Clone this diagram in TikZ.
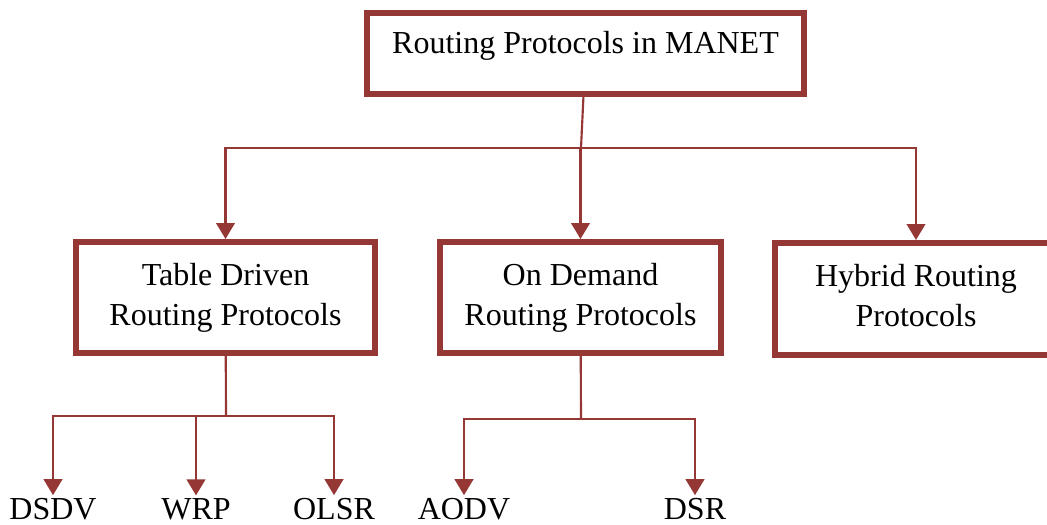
\documentclass[tikz,border=0pt]{standalone}
\usepackage{fontspec}
\setmainfont{Liberation Serif}
\usetikzlibrary{arrows.meta}
\definecolor{boxred}{RGB}{149,55,53}
\tikzset{
  protobox/.style={draw=boxred, line width=4.5pt, align=center, inner sep=0pt,
    minimum height=83.25pt, text depth=5pt},
  link/.style={color=boxred, line width=1.6pt},
  arrow/.style={link, ->},
  leaf/.style={anchor=base, inner sep=2pt, outer sep=0pt}
}

\begin{document}
\begin{tikzpicture}[x=0.75pt,y=-0.75pt,>={Triangle[width=14pt,length=12pt]},
  font=\fontsize{24}{30}\selectfont]
\useasboundingbox (0,0) rectangle (1047,525);
\node[protobox,minimum width=327.75pt,minimum height=60.75pt,text height=30pt,
  text depth=30.75pt] (manet) at (585.5,53.5) {Routing Protocols in MANET};
%
\node[protobox,minimum width=224.25pt] (tabledriven) at (225.5,297.5) {Table Driven\\Routing Protocols};
\node[protobox,minimum width=210.75pt] (ondemand) at (580.5,297.5) {On Demand\\Routing Protocols};
\node[protobox,minimum width=211.5pt,minimum height=84pt] (hybrid) at (916,299) {Hybrid Routing\\Protocols};
%
\node[leaf] (dsdv) at (53,519) {DSDV};
\node[leaf] (wrp) at (196,519) {WRP};
\node[leaf] (olsr) at (334,519) {OLSR};
\node[leaf] (aodv) at (464,519) {AODV};
\node[leaf] (dsr) at (695,519) {DSR};
%
\coordinate (topbar) at (581,148);
\coordinate (tdbar) at (226,416);
\coordinate (odbar) at (581,419);
\draw[link] (manet) -- (topbar);
\draw[link] (tabledriven) -- (tdbar);
\draw[link] (ondemand) -- (odbar);
%
\draw[arrow] (topbar) -| (tabledriven);
\draw[arrow] (topbar) -| (ondemand);
\draw[arrow] (topbar) -| (hybrid);
\draw[arrow] (tdbar) -| (dsdv);
\draw[arrow] (tdbar) -| (wrp);
\draw[arrow] (tdbar) -| (olsr);
\draw[arrow] (odbar) -| (aodv);
\draw[arrow] (odbar) -| (dsr);
\end{tikzpicture}
\end{document}
